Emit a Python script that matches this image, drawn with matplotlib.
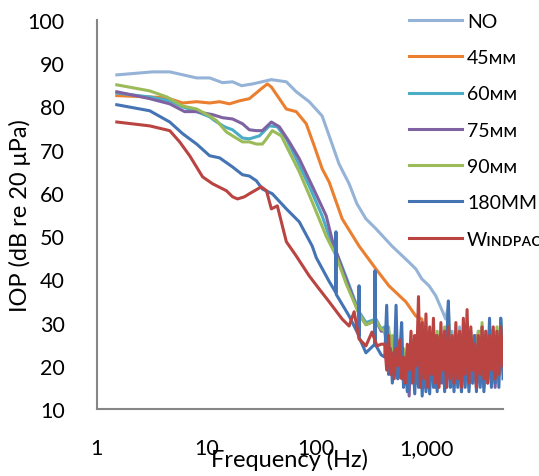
import matplotlib.pyplot as plt

plt.rcParams['font.family'] = ['Lato', 'DejaVu Sans']

# frequencies shared by the noisy high-frequency part (Hz)
noise_f = [420, 437, 455, 473, 492, 512, 532, 553, 575, 598, 622, 647, 673, 700, 728, 757,
           787, 818, 851, 885, 920, 957, 995, 1035, 1076, 1119, 1164, 1210, 1259, 1309, 1361, 1416,
           1472, 1531, 1592, 1656, 1722, 1791, 1862, 1937, 2014, 2095, 2178, 2265, 2356, 2450, 2548, 2650,
           2756, 2866, 2980, 3100, 3224, 3352, 3486, 3626, 3771, 3921, 4078, 4241, 4411, 4587, 4771, 5000]

# NO
no_f = [1.53, 3.25, 4.64, 8.15, 10.7, 14.0, 17.3, 20.9, 26.2, 39.0, 53.4, 65.7, 86.2, 113, 131,
        161, 199, 234, 283, 349, 488, 695, 805, 912, 1062, 1222, 1380, 1506]
no_v = [87.3, 88.0, 88.0, 86.6, 86.6, 85.5, 85.7, 84.8, 85.2, 86.2, 85.7, 83.4, 81.1, 77.8, 73.2,
        66.7, 62.1, 57.5, 54.0, 51.7, 47.7, 44.0, 42.4, 40.1, 38.5, 36.2, 33.1, 30.8]
no_noise = [34, 22, 28, 20, 27, 21, 29, 19, 28, 20, 27, 18, 28, 20, 27, 19, 28, 20, 27, 18,
            28, 19, 29, 18, 27, 19, 28, 18, 29, 21]

# 45mm
mm45_f = [1.53, 3.05, 4.36, 6.08, 8.15, 10.7, 13.2, 16.2, 20.0, 24.6, 31.6, 35.9, 39.0, 46.1,
          53.4, 65.7, 81.0, 95.7, 113, 131, 172, 245, 349, 458, 653, 805, 912]
mm45_v = [82.5, 82.2, 82.0, 80.8, 81.1, 80.8, 81.1, 80.6, 81.3, 81.8, 84.1, 85.2, 84.5, 81.8,
          79.4, 78.8, 76.0, 70.9, 65.6, 62.5, 54.0, 47.7, 42.4, 38.5, 34.8, 31.5, 30.8]
mm45_noise = [28, 20, 27, 19, 26, 18, 27, 17, 26, 19, 27, 18, 26, 17, 28, 18, 26, 17, 27, 18,
              26, 17, 28, 18, 27, 17, 26, 18, 27, 17, 28, 18, 26, 17, 27, 18, 28, 17, 26, 18,
              27, 19, 28]

# 60mm
mm60_f = [1.53, 3.05, 4.64, 6.08, 8.15, 10.7, 11.9, 14.6, 17.3, 21.3, 24.6, 30.4, 37.4, 44.2,
          53.4, 65.7, 86.2, 113, 131, 151, 187, 245, 283, 349, 390]
mm60_v = [83.1, 82.2, 81.3, 79.9, 78.8, 77.6, 76.7, 75.3, 74.6, 72.7, 72.5, 73.2, 75.5, 75.3,
          72.5, 67.9, 61.6, 54.7, 50.0, 46.5, 40.5, 32.5, 30.0, 30.8, 28.5]
mm60_noise = [29, 25, 28, 23, 26, 20, 25, 18, 24, 21, 23, 17, 24, 16, 26, 18, 26, 17, 25, 17,
              28, 16, 27, 17, 26, 18, 25, 16, 27, 17, 26, 17, 28, 16, 30, 17, 26, 16, 25, 17,
              27, 15, 26, 18, 28, 16, 26, 17, 27, 16, 27, 17, 29, 16, 26, 18, 28, 17, 27, 16,
              28, 19, 31, 22]

# 75mm
mm75_f = [1.53, 3.05, 4.64, 6.34, 8.15, 11.4, 14.0, 17.3, 21.3, 24.6, 28.5, 32.3, 39.0, 46.1,
          56.8, 70.0, 91.8, 123, 140, 151, 187, 245, 283, 349, 390]
mm75_v = [83.4, 81.8, 80.6, 78.8, 78.8, 78.1, 77.4, 77.1, 76.0, 74.6, 74.4, 74.4, 76.4, 75.3,
          71.8, 67.9, 61.6, 54.7, 49.0, 46.5, 40.0, 32.0, 29.5, 30.5, 28.0]
mm75_noise = [28, 24, 27, 22, 25, 19, 24, 17, 23, 20, 22, 16, 23, 13, 25, 17, 25, 16, 24, 16,
              27, 15, 26, 16, 25, 17, 24, 15, 26, 16, 25, 16, 27, 15, 29, 16, 25, 15, 24, 16,
              26, 14, 25, 17, 27, 15, 25, 16, 26, 15, 26, 16, 28, 15, 25, 17, 27, 16, 26, 15,
              27, 18, 29, 20]

# 90mm
mm90_f = [1.53, 3.05, 4.36, 6.08, 8.15, 10.7, 12.4, 15.2, 17.3, 21.3, 24.6, 28.5, 32.3, 35.2,
          39.8, 48.0, 56.8, 70.0, 91.8, 123, 151, 187, 245, 283, 349, 390]
mm90_v = [85.0, 83.6, 82.2, 80.1, 79.4, 77.8, 76.7, 74.1, 73.2, 71.8, 71.8, 71.3, 71.3, 72.5,
          74.4, 73.2, 69.5, 64.9, 57.9, 50.0, 45.5, 39.0, 32.0, 29.5, 30.5, 28.5]
mm90_noise = [28, 26, 29, 24, 27, 21, 26, 19, 25, 22, 24, 18, 23, 17, 25, 19, 27, 16, 26, 18,
              29, 17, 28, 16, 27, 19, 26, 17, 28, 16, 27, 18, 29, 17, 33, 18, 27, 17, 26, 18,
              28, 16, 27, 19, 29, 17, 27, 18, 26, 17, 28, 18, 30, 17, 27, 19, 29, 18, 28, 17,
              29, 18, 30, 21]

# 180mm
mm180_f = [1.53, 3.05, 4.64, 6.08, 8.15, 10.7, 13.2, 17.3, 21.3, 24.6, 28.5, 32.3, 39.8, 53.4,
           70.0, 91.8, 100, 131, 150, 151, 152, 199, 244, 245, 246, 283, 341, 342, 343, 390]
mm180_v = [80.4, 79.0, 76.4, 73.7, 71.3, 68.6, 68.1, 66.0, 64.2, 63.9, 62.8, 60.9, 59.8, 56.3,
           53.3, 47.7, 45.0, 39.5, 37.0, 51.0, 36.5, 31.5, 27.0, 38.5, 26.5, 23.0, 25.0, 42.0,
           25.0, 22.5]
mm180_noise = [22, 34, 18, 24, 16, 21, 34, 17, 23, 30, 15, 21, 14, 24, 16, 22, 13.5, 25, 15, 26,
               13, 27, 14, 24, 13.5, 26, 15, 27, 14, 25, 16, 26, 14, 24, 35, 15, 26, 14, 25, 15,
               27, 14, 26, 15, 28, 14, 25, 16, 27, 14, 25, 15, 26, 14, 27, 16, 31, 15, 26, 16,
               27, 15, 31, 17]

# Windpac
wp_f = [1.53, 3.05, 4.64, 5.71, 7.04, 9.24, 11.4, 15.2, 17.3, 19.2, 22.2, 24.6, 31.6, 35.2,
        39.0, 44.2, 53.4, 65.7, 86.2, 106, 131, 172, 199, 221, 245, 283, 321, 357, 390]
wp_v = [76.4, 75.5, 74.4, 71.8, 68.6, 63.7, 62.1, 60.5, 59.1, 58.6, 59.1, 59.8, 61.4, 60.5,
        56.3, 57.0, 48.7, 45.4, 40.8, 37.8, 34.8, 30.8, 29.2, 32.5, 26.2, 24.6, 27.8, 24.6, 25.0]
wp_noise = [25, 19, 27, 18, 23, 17, 24, 20, 26, 17, 22, 16, 25, 19, 28, 16, 27, 20, 36, 15,
            30, 17, 32, 15, 29, 18, 31, 16, 27, 15, 30, 19, 28, 15, 29, 17, 27, 16, 30, 17,
            28, 15, 31, 18, 33, 16, 29, 19, 25, 15, 27, 18, 29, 17, 28, 16, 27, 19, 29, 17,
            28, 18, 29, 20]

labels = ['NO', '45ᴍᴍ', '60ᴍᴍ', '75ᴍᴍ', '90ᴍᴍ', '180MM', 'Wɪɴᴅᴘᴀᴄ']
colors = ['#95B3D7', '#EB7F30', '#4BACC6', '#7F62A1', '#9BBB59', '#4474B4', '#B94441']

series = [
    (no_f + noise_f[34:], no_v + no_noise),
    (mm45_f + noise_f[21:], mm45_v + mm45_noise),
    (mm60_f + noise_f, mm60_v + mm60_noise),
    (mm75_f + noise_f, mm75_v + mm75_noise),
    (mm90_f + noise_f, mm90_v + mm90_noise),
    (mm180_f + noise_f, mm180_v + mm180_noise),
    (wp_f + noise_f, wp_v + wp_noise),
]

fig = plt.figure(figsize=(5.39, 4.77), dpi=100)
ax = fig.add_axes([96.5/539, 1-410/477, (503-96.5)/539, (410-21)/477])

for (f, v), lab, c in zip(series, labels, colors):
    ax.plot(f, v, color=c, linewidth=2.2, label=lab)

ax.set_xscale('log')
ax.set_xlim(1, 5000)
ax.set_ylim(10, 100)
ax.set_xticks([1, 10, 100, 1000])
ax.set_xticklabels(['1', '10', '100', '1,000'])
ax.set_xticks([], minor=True)
ax.set_yticks(range(10, 101, 10))
ax.tick_params(length=0, labelsize=15.5, colors='black')
ax.tick_params(axis='x', pad=21)
ax.tick_params(axis='y', pad=23)

for s in ['top', 'right']:
    ax.spines[s].set_visible(False)
for s in ['left', 'bottom']:
    ax.spines[s].set_color('#868686')
    ax.spines[s].set_linewidth(1.5)

ax.set_xlabel('Frequency (Hz)', fontsize=17)
ax.xaxis.set_label_coords(0.476, -0.1)
ax.set_ylabel('IOP (dB re 20 μPa)', fontsize=17)
ax.yaxis.set_label_coords(-0.162, 0.5)

ax.legend(loc='upper left', bbox_to_anchor=(409/539, 1-14/477), bbox_transform=fig.transFigure,
          frameon=False, fontsize=14, handlelength=2.73, handletextpad=0.26,
          labelspacing=0.99, borderpad=0, borderaxespad=0)

plt.savefig('out.png', dpi=100)
